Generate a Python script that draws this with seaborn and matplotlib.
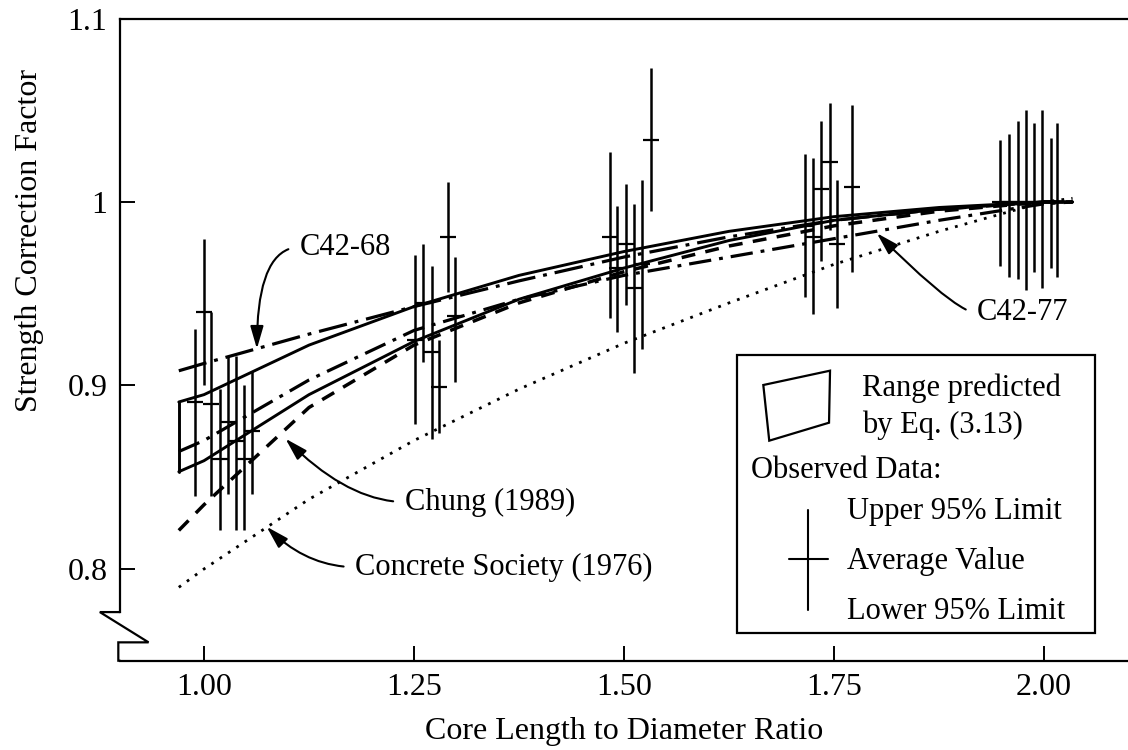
import numpy as np
import matplotlib
matplotlib.use("Agg")
import matplotlib.pyplot as plt
import seaborn as sns
from matplotlib.patches import Polygon, Rectangle

# ---------------- data ----------------
x_curve = [0.97, 1.0, 1.125, 1.25, 1.375, 1.5, 1.625, 1.75, 1.875, 2.0, 2.034]
range_upper = [0.891, 0.895, 0.922, 0.943, 0.960, 0.973, 0.984, 0.992, 0.997, 1.000, 1.000]
range_lower = [0.853, 0.859, 0.895, 0.924, 0.947, 0.964, 0.979, 0.990, 0.996, 1.000, 1.000]
c42_68 = [0.908, 0.912, 0.928, 0.943, 0.957, 0.970, 0.981, 0.990, 0.996, 1.000, 1.000]
c42_77 = [0.864, 0.870, 0.903, 0.930, 0.947, 0.960, 0.970, 0.980, 0.990, 0.999, 1.000]
chung = [0.821, 0.835, 0.888, 0.922, 0.945, 0.962, 0.976, 0.987, 0.995, 1.000, 1.000]
concrete_society = [0.790, 0.800, 0.838, 0.870, 0.898, 0.923, 0.945, 0.966, 0.984, 1.000, 1.002]

obs_x = [0.989, 1.000, 1.008, 1.019, 1.029, 1.038, 1.048, 1.057,
         1.251, 1.261, 1.271, 1.280, 1.291, 1.299,
         1.483, 1.492, 1.502, 1.512, 1.521, 1.532,
         1.715, 1.725, 1.735, 1.745, 1.753, 1.772,
         1.948, 1.958, 1.969, 1.979, 1.988, 1.998, 2.008, 2.016]
obs_lower = [0.840, 0.900, 0.840, 0.821, 0.841, 0.821, 0.821, 0.841,
             0.879, 0.913, 0.871, 0.874, 0.951, 0.902,
             0.937, 0.929, 0.944, 0.907, 0.920, 0.995,
             0.948, 0.939, 0.968, 0.985, 0.942, 0.962,
             0.965, 0.959, 0.958, 0.952, 0.962, 0.953, 0.964, 0.959]
obs_avg = [0.891, 0.940, 0.890, 0.860, 0.880, 0.870, 0.860, 0.875,
           0.925, 0.945, 0.918, 0.899, 0.981, 0.938,
           0.981, 0.964, 0.977, 0.953, 0.966, 1.034,
           0.987, 0.981, 1.007, 1.022, 0.977, 1.008,
           1.000, 1.000, 1.000, 1.000, 1.000, 1.000, 1.000, 1.000]
obs_upper = [0.931, 0.980, 0.940, 0.898, 0.916, 0.916, 0.900, 0.908,
             0.971, 0.977, 0.965, 0.925, 1.011, 0.970,
             1.027, 0.998, 1.010, 0.999, 1.012, 1.073,
             1.026, 1.024, 1.044, 1.054, 1.012, 1.053,
             1.034, 1.037, 1.044, 1.050, 1.043, 1.050, 1.035, 1.043]

x_ticks = [1.00, 1.25, 1.50, 1.75, 2.00]
x_tick_labels = ["1.00", "1.25", "1.50", "1.75", "2.00"]
y_ticks = [0.8, 0.9, 1.0, 1.1]
y_tick_labels = ["0.8", "0.9", "1", "1.1"]

# ---------------- style ----------------
sns.set_theme(style="white")
plt.rcParams["font.family"] = ["Liberation Serif", "DejaVu Serif"]
plt.rcParams["axes.edgecolor"] = "black"
plt.rcParams["axes.labelcolor"] = "black"
plt.rcParams["text.color"] = "black"
plt.rcParams["xtick.color"] = "black"
plt.rcParams["ytick.color"] = "black"

W, H = 1128, 750
fig = plt.figure(figsize=(W / 100, H / 100), dpi=100)
ax = fig.add_axes([120 / W, 1 - 660.7 / H, 1008 / W, 642.2 / H])
ax.set_xlim(0.9, 2.1)
ax.set_ylim(0.75, 1.1)

K = "black"
# predicted range (quadrilateral)
sns.lineplot(x=x_curve, y=range_upper, ax=ax, color=K, lw=2.1, estimator=None, sort=False)
sns.lineplot(x=x_curve, y=range_lower, ax=ax, color=K, lw=2.1, estimator=None, sort=False)
ax.plot([x_curve[0], x_curve[0]], [range_lower[0], range_upper[0]], color=K, lw=2.1)

# code curves
sns.lineplot(x=x_curve, y=c42_68, ax=ax, color=K, lw=2.3, estimator=None, sort=False,
             linestyle=(0, (9, 2.5, 1.2, 2.5)))
sns.lineplot(x=x_curve, y=c42_77, ax=ax, color=K, lw=2.3, estimator=None, sort=False,
             linestyle=(0, (7, 2.5, 1.2, 2.5)))
sns.lineplot(x=x_curve, y=chung, ax=ax, color=K, lw=2.5, estimator=None, sort=False,
             linestyle=(0, (4.0, 3.0)))
sns.lineplot(x=x_curve, y=concrete_society, ax=ax, color=K, lw=2.0, estimator=None, sort=False,
             linestyle=(0, (1.0, 2.6)))

# observed data
yerr = [np.array(obs_avg) - np.array(obs_lower), np.array(obs_upper) - np.array(obs_avg)]
ax.errorbar(obs_x, obs_avg, yerr=yerr, fmt="none", ecolor=K, elinewidth=1.8, capsize=0)
sns.scatterplot(x=obs_x, y=obs_avg, ax=ax, marker="_", s=130, color=K, linewidth=1.6, zorder=5)

# axes
ax.set_xticks(x_ticks)
ax.set_xticklabels(x_tick_labels)
ax.set_yticks(y_ticks)
ax.set_yticklabels(y_tick_labels)
ax.tick_params(axis="both", direction="in", length=11, width=1.4, labelsize=23,
               bottom=True, left=True, top=False, right=False)
ax.tick_params(axis="x", pad=9)
ax.tick_params(axis="y", pad=9)
ax.set_xlabel("Core Length to Diameter Ratio", fontsize=23, labelpad=11)
ax.set_ylabel("Strength Correction Factor", fontsize=23)
ax.yaxis.set_label_coords(-0.075, 0.655)
ax.grid(False)
for s in ["top", "bottom", "left"]:
    ax.spines[s].set_linewidth(1.6)
    ax.spines[s].set_color(K)
ax.spines["right"].set_visible(False)
ax.spines["left"].set_bounds(0.7765, 1.1)
# axis break
ax.plot([0.9, 0.876, 0.934, 0.898, 0.898, 0.9],
        [0.7765, 0.7765, 0.760, 0.760, 0.75, 0.75],
        color=K, lw=1.6, clip_on=False, solid_joinstyle="miter")

# annotations
arrow = dict(arrowstyle="-|>,head_length=0.55,head_width=0.16", color=K, lw=1.5,
             mutation_scale=25, shrinkA=6, shrinkB=0, relpos=(0, 0.5))
ax.annotate("C42-68", xy=(1.063, 0.920), xytext=(1.114, 0.9754), fontsize=22,
            ha="left", va="center",
            arrowprops=dict(arrow, connectionstyle="angle3,angleA=0,angleB=90"))
ax.annotate("Chung (1989)", xy=(1.097, 0.871), xytext=(1.239, 0.8365), fontsize=22,
            ha="left", va="center",
            arrowprops=dict(arrow, connectionstyle="angle3,angleA=0,angleB=-45"))
ax.annotate("Concrete Society (1976)", xy=(1.0746, 0.823), xytext=(1.180, 0.801), fontsize=22,
            ha="left", va="center",
            arrowprops=dict(arrow, connectionstyle="angle3,angleA=0,angleB=-45"))
ax.annotate("C42-77", xy=(1.801, 0.983), xytext=(1.920, 0.9395), fontsize=22,
            ha="left", va="center",
            arrowprops=dict(arrow, connectionstyle="angle3,angleA=0,angleB=-45"))

# legend box (axes fraction coordinates)
T = ax.transAxes
ax.add_patch(Rectangle((0.6121, 0.0431), 0.9673 - 0.6121, 0.4760 - 0.0431, transform=T,
                       fill=True, facecolor="white", edgecolor=K, lw=1.6, zorder=6))
ax.add_patch(Polygon([(0.6382, 0.4293), (0.7044, 0.4516), (0.7034, 0.3706), (0.6441, 0.3426)],
                     closed=True, fill=False, edgecolor=K, lw=1.6, transform=T, zorder=7))
ax.text(0.7358, 0.4246, "Range predicted", transform=T, fontsize=22, ha="left", va="center", zorder=7)
ax.text(0.7358, 0.3670, "by Eq. (3.13)", transform=T, fontsize=22, ha="left", va="center", zorder=7)
ax.text(0.6257, 0.2969, "Observed Data:", transform=T, fontsize=22, ha="left", va="center", zorder=7)
ax.plot([0.6828, 0.6828], [0.0789, 0.2347], transform=T, color=K, lw=1.5, zorder=7)
ax.plot([0.6637, 0.7024], [0.1579, 0.1579], transform=T, color=K, lw=1.5, zorder=7)
ax.text(0.7209, 0.2320, "Upper 95% Limit", transform=T, fontsize=22, ha="left", va="center", zorder=7)
ax.text(0.7209, 0.1542, "Average Value", transform=T, fontsize=22, ha="left", va="center", zorder=7)
ax.text(0.7209, 0.0763, "Lower 95% Limit", transform=T, fontsize=22, ha="left", va="center", zorder=7)

fig.savefig("out.png", dpi=100, facecolor="white")
